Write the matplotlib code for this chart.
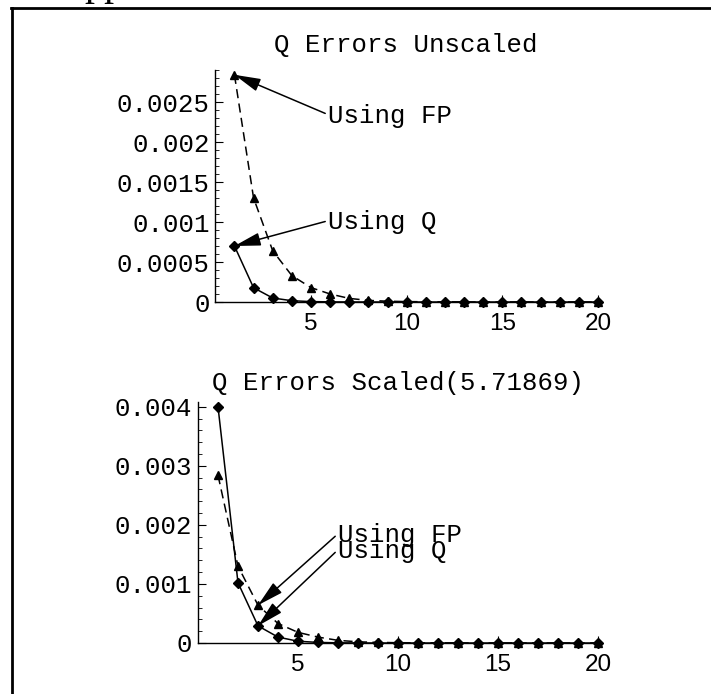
import matplotlib
matplotlib.use("Agg")
import matplotlib.pyplot as plt
from matplotlib.lines import Line2D
from matplotlib.ticker import MultipleLocator, FixedLocator

# dati
n = list(range(1, 21))
fp_err = [0.00284, 0.0013, 0.00064, 0.00033, 0.00018, 0.0001, 0.000045, 0.00002,
          0.00001, 0.000005, 0.000003, 0.000002, 0.000001, 0, 0, 0, 0, 0, 0, 0]
q_err = [0.0007, 0.000178, 0.00005, 0.000016, 0.000005, 0.0000017, 0.0000006, 0.0000002,
         0, 0, 0, 0, 0, 0, 0, 0, 0, 0, 0, 0]
q_err_scaled = [0.004, 0.00102, 0.00029, 0.0001, 0.00003, 0.00001, 0.000003, 0.000001,
                0, 0, 0, 0, 0, 0, 0, 0, 0, 0, 0, 0]

top_title = "Q Errors Unscaled"
bottom_title = "Q Errors Scaled(5.71869)"
top_yticks = [0, 0.0005, 0.001, 0.0015, 0.002, 0.0025]
top_ylabels = ["0", "0.0005", "0.001", "0.0015", "0.002", "0.0025"]
bottom_yticks = [0, 0.001, 0.002, 0.003, 0.004]
bottom_ylabels = ["0", "0.001", "0.002", "0.003", "0.004"]
xticks = [5, 10, 15, 20]

W, H = 711, 694
MONO = ["Liberation Mono", "DejaVu Sans Mono"]
FS = 18.5

fig = plt.figure(figsize=(W / 100, H / 100), dpi=100)


def box(x0, y0, x1, y1):
    # pixel -> coordinate figura
    return [x0 / W, 1 - y1 / H, (x1 - x0) / W, (y1 - y0) / H]


def setup(ax, ylim, yticks, ylabels, minor):
    ax.set_xlim(0, 20)
    ax.set_ylim(*ylim)
    for s in ["top", "right"]:
        ax.spines[s].set_visible(False)
    for s in ["left", "bottom"]:
        ax.spines[s].set_linewidth(1.0)
    ax.yaxis.set_major_locator(FixedLocator(yticks))
    ax.set_yticklabels(ylabels, fontfamily=MONO, fontsize=FS)
    ax.yaxis.set_minor_locator(MultipleLocator(minor))
    ax.xaxis.set_major_locator(FixedLocator(xticks))
    ax.set_xticklabels([str(t) for t in xticks], fontfamily="Liberation Sans", fontsize=17.5)
    ax.tick_params(axis="y", which="major", direction="in", length=6, width=0.8, pad=4)
    ax.tick_params(axis="y", which="minor", direction="in", length=3, width=0.6)
    ax.tick_params(axis="x", which="major", direction="in", length=5, width=0.8, pad=8)


def curves(ax, q):
    ax.plot(n, q, color="k", lw=1.1, marker="D", ms=5, clip_on=False, zorder=3)
    ax.plot(n, fp_err, color="k", lw=1.1, ls=(0, (6, 3.5)), marker="^", ms=6,
            clip_on=False, zorder=3)


def label(ax, text, xy, xytext):
    ax.annotate(text, xy=xy, xytext=xytext, textcoords="data",
                ha="left", va="baseline", fontfamily=MONO, fontsize=FS,
                arrowprops=dict(arrowstyle="-|>,head_length=0.8,head_width=0.2",
                                mutation_scale=20, color="k", lw=1.1,
                                shrinkA=0, shrinkB=0, relpos=(0, 0.55)),
                annotation_clip=False)


# grafico in alto
ax1 = fig.add_axes(box(215.3, 70, 598, 302))
setup(ax1, (0, 0.0029), top_yticks, top_ylabels, 0.0001)
curves(ax1, q_err)
label(ax1, "Using FP", (n[0], fp_err[0]), (5.89, 0.00224))
label(ax1, "Using Q", (n[0], q_err[0]), (5.89, 0.000913))
fig.text(406 / W, 1 - 45 / H, top_title, ha="center", va="center",
         fontfamily=MONO, fontsize=FS)

# grafico in basso
ax2 = fig.add_axes(box(198, 402, 598, 643))
setup(ax2, (0, 0.00408), bottom_yticks, bottom_ylabels, 0.0002)
curves(ax2, q_err_scaled)
label(ax2, "Using FP", (n[2], fp_err[2]), (7.0, 0.00171))
label(ax2, "Using Q", (n[2], q_err_scaled[2]), (7.0, 0.00144))
fig.text(398 / W, 1 - 383 / H, bottom_title, ha="center", va="center",
         fontfamily=MONO, fontsize=FS)

# cornice e testo tagliato in alto
fig.add_artist(Line2D([11 / W, 1], [1 - 7.5 / H, 1 - 7.5 / H], color="k", lw=2.0))
fig.add_artist(Line2D([11.5 / W, 11.5 / W], [0, 1 - 7.5 / H], color="k", lw=2.0))
fig.text(84 / W, 1 + 5 / H, "pp", ha="left", va="baseline",
         fontfamily="Liberation Serif", fontsize=29)

fig.savefig("out.png", dpi=100)
